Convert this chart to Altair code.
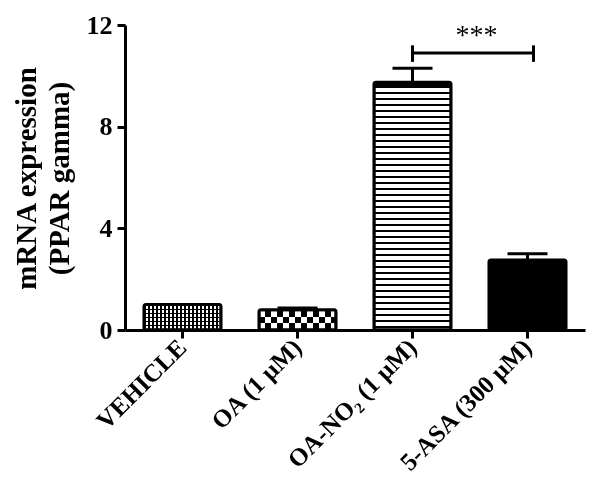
import altair as alt
import pandas as pd

# ---- data ----
categories = ["VEHICLE", "OA (1 μM)", "OA-NO₂ (1 μM)", "5-ASA (300 μM)"]
means = [1.0, 0.8, 9.75, 2.75]
upper = [1.0, 0.87, 10.3, 3.0]

sig_from = "OA-NO₂ (1 μM)"
sig_to = "5-ASA (300 μM)"
sig_y = 10.9
sig_tick_lo = 10.55
sig_tick_hi = 11.2
sig_label_y = 11.55
sig_label = "***"

y_ticks = [0, 4, 8, 12]
y_max = 12

df = pd.DataFrame({"cat": categories, "mean": means, "upper": upper})
sig_df = pd.DataFrame({"a": [sig_from], "b": [sig_to], "y": [sig_y],
                       "lo": [sig_tick_lo], "hi": [sig_tick_hi],
                       "ly": [sig_label_y], "label": [sig_label]})

# ---- layout ----
W, H = 460, 305
PX_PER_UNIT = H / y_max
FONT = "Liberation Serif"
P_IN, P_OUT = 0.33, 0.165
step = W / (len(categories) - P_IN + 2 * P_OUT)
band = step * (1 - P_IN)


def stripe_stops(length, period, on, on_color, off_color, phase=0.0):
    stops = []
    pos = -phase
    while pos < length:
        a = max(pos, 0) / length
        b = min(max(pos + on, 0), length) / length
        c = min(pos + period, length) / length
        stops += [{"offset": a, "color": on_color}, {"offset": b, "color": on_color},
                  {"offset": b, "color": off_color}, {"offset": c, "color": off_color}]
        pos += period
    return stops


def grad(stops, vertical):
    if vertical:  # lines are horizontal, gradient runs top->bottom
        return {"gradient": "linear", "stops": stops, "x1": 0, "y1": 0, "x2": 0, "y2": 1}
    return {"gradient": "linear", "stops": stops, "x1": 0, "y1": 0, "x2": 1, "y2": 0}


xscale = alt.Scale(domain=categories, paddingInner=P_IN, paddingOuter=P_OUT)
yscale = alt.Scale(domain=[0, y_max])

X = alt.X("cat:N", scale=xscale, sort=categories,
          axis=alt.Axis(title=None, labelAngle=-45, labelAlign="right", labelBaseline="middle",
                        labelFont=FONT, labelFontSize=25, labelFontWeight="bold", labelColor="black",
                        labelPadding=5, tickSize=8, tickWidth=3, tickColor="black",
                        domainWidth=3, domainColor="black", labelLimit=400))
Y = alt.Y("mean:Q", scale=yscale,
          axis=alt.Axis(values=y_ticks, title=["mRNA expression", "(PPAR gamma)"],
                        titleFont=FONT, titleFontSize=29, titleFontWeight="bold", titleColor="black",
                        titleAngle=-90, titleX=-113, titleY=153, titleAlign="center",
                        titleBaseline="top", titleLineHeight=33,
                        labelFont=FONT, labelFontSize=26, labelFontWeight="bold", labelColor="black",
                        labelPadding=5, tickSize=8, tickWidth=3, tickColor="black",
                        domainWidth=3, domainColor="black", grid=False))

base = alt.Chart(df)


def bar_for(cat, **mark):
    return base.transform_filter(alt.datum.cat == cat).mark_bar(**mark).encode(x=X, y=Y)


h = {c: m * PX_PER_UNIT for c, m in zip(categories, means)}

# VEHICLE: fine white dots on black (white base + black grid lines)
veh = categories[0]
veh_layers = [
    bar_for(veh, fill="white"),
    bar_for(veh, fill=grad(stripe_stops(h[veh], 4, 1.8, "black", "rgba(0,0,0,0)"), True)),
    bar_for(veh, fill=grad(stripe_stops(band, 4, 1.8, "black", "rgba(0,0,0,0)"), False)),
]
# OA: coarse checkerboard (XOR of two stripe sets via difference blend)
oa = categories[1]
oa_layers = [
    bar_for(oa, fill=grad(stripe_stops(h[oa], 12, 6, "black", "white", phase=-1), True)),
    bar_for(oa, fill=grad(stripe_stops(band, 12, 6, "white", "black"), False), blend="difference"),
]
# OA-NO2: horizontal stripes
no2 = categories[2]
no2_layers = [bar_for(no2, fill=grad(stripe_stops(h[no2], 6, 2, "black", "white", phase=-4), True))]
# 5-ASA: solid black
asa = categories[3]
asa_layers = [bar_for(asa, fill="black")]

outline = base.mark_bar(fillOpacity=0, stroke="black", strokeWidth=3, cornerRadius=2).encode(x=X, y=Y)

err_rule = base.mark_rule(color="black", strokeWidth=3, opacity=1).encode(
    x=alt.X("cat:N", scale=xscale, sort=categories), y=alt.Y("mean:Q", scale=yscale), y2="upper:Q")
err_cap = base.mark_tick(color="black", thickness=3, size=40, opacity=1).encode(
    x=alt.X("cat:N", scale=xscale, sort=categories), y=alt.Y("upper:Q", scale=yscale))

sig_base = alt.Chart(sig_df)
sig_line = sig_base.mark_rule(color="black", strokeWidth=3, x2Offset=6).encode(
    x=alt.X("a:N", scale=xscale), x2="b:N", y=alt.Y("y:Q", scale=yscale))
sig_left = sig_base.mark_rule(color="black", strokeWidth=3).encode(
    x=alt.X("a:N", scale=xscale), y=alt.Y("lo:Q", scale=yscale), y2="hi:Q")
sig_right = sig_base.mark_rule(color="black", strokeWidth=3, xOffset=6).encode(
    x=alt.X("b:N", scale=xscale), y=alt.Y("lo:Q", scale=yscale), y2="hi:Q")
sig_text = sig_base.mark_text(font=FONT, fontSize=28, color="black", dx=64, baseline="middle").encode(
    x=alt.X("a:N", scale=xscale), y=alt.Y("ly:Q", scale=yscale), text="label:N")

chart = alt.layer(
    *veh_layers, *oa_layers, *no2_layers, *asa_layers, outline,
    err_rule, err_cap, sig_line, sig_left, sig_right, sig_text
).properties(
    width=W, height=H,
    padding={"left": 117, "top": 17, "right": 8, "bottom": 155},
    autosize=alt.AutoSizeParams(type="none"),
    background="white",
).configure_view(stroke=None)

chart.save("out.html", embed_options={"renderer": "svg", "actions": False})
